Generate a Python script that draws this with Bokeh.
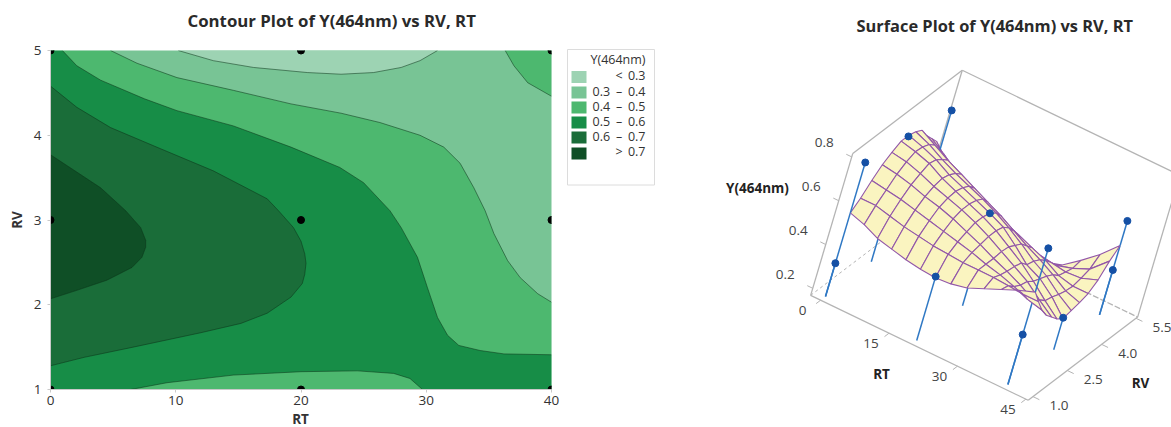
from bokeh.plotting import figure
from bokeh.embed import file_html
from bokeh.resources import INLINE
from bokeh.layouts import row, column
from bokeh.models import Range1d, FixedTicker
from bokeh.core.properties import value

FONT = "Open Sans"
TEXT = "#333333"
COL_LT3, COL_34, COL_45, COL_56, COL_67, COL_GT7 = "#9dd3b3", "#78c495", "#4db86f", "#178d47", "#1a6d39", "#0f4f26"

# contour boundaries (RT, RV)
c03_rt = [10.2, 13, 16.2, 20.5, 23.2, 25.8, 28, 29.5, 30.9]
c03_rv = [5, 4.88, 4.8, 4.74, 4.72, 4.74, 4.8, 4.88, 5]
c04_rt = [4.8, 6.9, 10.1, 14.6, 19.2, 23.2, 26.3, 29.5, 31.4, 32.7, 33.8, 34.7, 35.4, 36.5, 37.5, 38.9, 40]
c04_rv = [5, 4.85, 4.68, 4.53, 4.37, 4.26, 4.15, 4.0, 3.86, 3.67, 3.38, 3.11, 2.84, 2.52, 2.32, 2.13, 2.03]
c04b_rt = [36.3, 37, 38.1, 40]
c04b_rv = [5, 4.82, 4.62, 4.46]
c05_rt = [0.95, 2.1, 4, 7.5, 10.1, 14.6, 19.2, 23.1, 25, 27.1, 28, 29.3, 30.1, 30.9, 31.7, 32.6, 34.3, 36.2, 40]
c05_rv = [5, 4.82, 4.65, 4.43, 4.29, 4.11, 3.86, 3.62, 3.44, 3.11, 2.91, 2.56, 2.2, 1.85, 1.64, 1.52, 1.46, 1.42, 1.41]
c05b_rt = [6.4, 9.3, 14.6, 20, 24.5, 27.4, 28.7, 29.7]
c05b_rv = [1, 1.08, 1.17, 1.21, 1.22, 1.19, 1.13, 1]
c06_rt = [0, 2.1, 4.8, 8.8, 13, 17.3, 18.2, 19.4, 20.0, 20.3, 20.4, 20.3, 20.1, 19.2, 17.3, 15.2, 12, 6.6, 2.7, 0]
c06_rv = [4.58, 4.33, 4.09, 3.84, 3.58, 3.25, 3.11, 2.91, 2.75, 2.6, 2.49, 2.36, 2.25, 2.09, 1.9, 1.78, 1.67, 1.5, 1.38, 1.28]
c07_rt = [0, 4, 6, 7.2, 7.6, 7.6, 7.3, 6.5, 4.5, 2.1, 0]
c07_rv = [3.77, 3.38, 3.11, 2.91, 2.76, 2.68, 2.56, 2.44, 2.29, 2.17, 2.07]

design_rt = [0, 20, 40, 0, 20, 40, 0, 20, 40]
design_rv = [5, 5, 5, 3, 3, 3, 1, 1, 1]

legend_low = ["", "0.3", "0.4", "0.5", "0.6", ""]
legend_sep = ["<", "\u2013", "\u2013", "\u2013", "\u2013", ">"]
legend_high = ["0.3", "0.4", "0.5", "0.6", "0.7", "0.7"]
legend_cols = [COL_LT3, COL_34, COL_45, COL_56, COL_67, COL_GT7]

# surface heights; rows are RV 1 .. 5, columns RT 0 .. 40
surf_rt = [i * 10 / 3 for i in range(13)]
surf_rv = [1 + i / 3 for i in range(13)]
surf_z = [
    [.55, .53, .50, .485, .47, .46, .455, .46, .475, .505, .535, .565, .59],
    [.59, .59, .575, .56, .55, .54, .535, .53, .53, .53, .525, .52, .52],
    [.645, .635, .625, .61, .595, .58, .565, .55, .53, .515, .495, .47, .455],
    [.69, .68, .665, .645, .63, .61, .585, .56, .53, .505, .475, .44, .405],
    [.72, .71, .69, .665, .645, .625, .60, .57, .535, .50, .465, .415, .37],
    [.745, .73, .71, .675, .65, .625, .60, .57, .53, .49, .44, .385, .335],
    [.745, .725, .70, .665, .64, .615, .59, .56, .51, .455, .425, .375, .31],
    [.735, .71, .675, .645, .62, .595, .565, .53, .49, .445, .41, .36, .32],
    [.715, .68, .645, .615, .585, .555, .525, .49, .455, .425, .39, .35, .33],
    [.665, .63, .595, .565, .53, .50, .47, .445, .42, .395, .36, .345, .345],
    [.625, .585, .54, .49, .46, .43, .405, .385, .37, .36, .35, .355, .38],
    [.585, .52, .45, .40, .36, .335, .315, .305, .31, .32, .34, .37, .44],
    [.52, .44, .37, .30, .285, .27, .265, .265, .275, .295, .35, .41, .485],
]
# measured points of the surface plot (grid indexes give the design location)
pt_rt_i = [0, 0, 6, 12, 12, 0, 6, 12, 12, 12, 0]
pt_rv_i = [0, 0, 0, 0, 0, 6, 6, 6, 12, 12, 12]
pt_z = [.32, .78, .46, .396, .79, .74, .59, .314, .373, .597, .70]

rt_ticks = [0, 15, 30, 45]
rv_ticks = [1.0, 2.5, 4.0, 5.5]
z_ticks = [0.2, 0.4, 0.6, 0.8]
RT0, RT1, RV0, RV1, Z0, Z1 = -2.2, 45.5, 0.79, 5.57, 0.168, 0.816


def proj(rt, rv, z):
    return (825 + 4.56 * rt + 22.9 * (rv - 1) + 65 * (z - Z0),
            296 + 2.2 * rt - 17.4 * (rv - 1) - 219 * (z - Z0))


def strip(width, height, x0, y0):
    f = figure(width=width, height=height, x_range=Range1d(x0, x0 + width), y_range=Range1d(y0 + height, y0),
               output_backend="svg", toolbar_location=None, min_border=0, frame_align=False,
               outline_line_color=None, x_axis_type=None, y_axis_type=None)
    f.grid.visible = False
    return f


# ---------- contour plot
head = strip(560, 38, 0, 0)
head.text([187], [20], text=["Contour Plot of Y(464nm) vs RV, RT"], text_font=value(FONT),
          text_font_size="16.8px", text_font_style="bold", text_color="#2a2a2a",
          text_align="left", text_baseline="middle")

a = figure(width=560, height=375, x_range=Range1d(0, 40), y_range=Range1d(1, 5),
           output_backend="svg", toolbar_location=None, frame_align=False,
           min_border_left=50, min_border_right=9, min_border_top=12, min_border_bottom=24)
a.grid.visible = False
a.outline_line_color = None
a.background_fill_color = COL_34


def region(rt, rv, extra_rt, extra_rv, col):
    a.patch(rt + extra_rt, rv + extra_rv, fill_color=col, line_color=None)


region(c04_rt, c04_rv, [40, 0, 0], [1, 1, 5], COL_45)
region(c04b_rt, c04b_rv, [40], [5], COL_45)
region(c03_rt, c03_rv, [], [], COL_LT3)
region(c05_rt, c05_rv, [40, 0, 0], [1, 1, 5], COL_56)
region(c05b_rt, c05b_rv, [], [], COL_45)
region(c06_rt, c06_rv, [], [], COL_67)
region(c07_rt, c07_rv, [], [], COL_GT7)
for rt, rv in [(c03_rt, c03_rv), (c04_rt, c04_rv), (c04b_rt, c04b_rv), (c05_rt, c05_rv),
               (c05b_rt, c05b_rv), (c06_rt, c06_rv), (c07_rt, c07_rv)]:
    a.line(rt, rv, line_color="#0c3319", line_width=0.7, line_alpha=0.75)
a.scatter(design_rt, design_rv, size=7, color="black")

a.xaxis.ticker = FixedTicker(ticks=[0, 10, 20, 30, 40])
a.yaxis.ticker = FixedTicker(ticks=[1, 2, 3, 4, 5])
a.yaxis.axis_label = "RV"
for ax in (a.xaxis, a.yaxis):
    ax.axis_label_text_font = FONT
    ax.axis_label_text_font_size = "13.5px"
    ax.axis_label_text_font_style = "bold"
    ax.axis_label_text_color = TEXT
    ax.major_label_text_font = FONT
    ax.major_label_text_font_size = "13.5px"
    ax.major_label_text_color = TEXT
    ax.axis_line_color = "#c9c9c9"
    ax.major_tick_line_color = "#c9c9c9"
    ax.major_tick_in = 0
    ax.major_tick_out = 3
    ax.minor_tick_line_color = None
a.xaxis.major_label_standoff = 3
a.yaxis.major_label_standoff = 6
a.yaxis.major_label_orientation = "horizontal"
a.yaxis.axis_label_standoff = 5

foot = strip(560, 20, 0, 407)
foot.margin = (-6, 0, 0, 0)
foot.background_fill_alpha = 0
foot.border_fill_alpha = 0
foot.text([300], [418], text=["RT"], text_font=value(FONT), text_font_size="13.5px",
          text_font_style="bold", text_color=TEXT, text_align="center", text_baseline="middle")

# ---------- legend
n = len(legend_cols)
swatch_y = [76.5, 92, 107, 122, 137, 153]
text_y = [75, 90.5, 105.5, 120.5, 135.5, 151]
leg = strip(100, 427, 560, 0)
leg.quad(left=[567], right=[654], top=[49], bottom=[184.5], fill_color="white", line_color="#dcdcdc", line_width=1)
leg.rect(x=[578.5] * n, y=swatch_y, width=15, height=12, fill_color=legend_cols, line_color=None)
kw = dict(text_font=value(FONT), text_font_size="12.5px", text_color=TEXT, text_baseline="middle")
leg.text([645], [59], text=["Y(464nm)"], text_align="right", **kw)
leg.text([592] * n, text_y, text=legend_low, text_align="left", **kw)
leg.text([618.5] * n, text_y, text=legend_sep, text_align="center", **kw)
leg.text([645] * n, text_y, text=legend_high, text_align="right", **kw)

# ---------- surface plot
s = strip(511, 427, 660, 0)
s.text([856], [25], text=["Surface Plot of Y(464nm) vs RV, RT"], text_font=value(FONT),
       text_font_size="16.4px", text_font_style="bold", text_color="#2a2a2a",
       text_align="left", text_baseline="middle")


def seg(p0, p1, **k):
    x0, y0 = proj(*p0)
    x1, y1 = proj(*p1)
    s.line([x0, x1], [y0, y1], **k)


box = dict(line_color="#b4b4b4", line_width=1.3)
seg((RT0, RV0, Z0), (RT1, RV0, Z0), **box)
seg((RT1, RV0, Z0), (RT1, RV1, Z0), **box)
seg((RT0, RV0, Z0), (RT0, RV0, Z1), **box)
seg((RT0, RV0, Z1), (RT0, RV1, Z1), **box)
seg((RT0, RV1, Z1), (RT1, RV1, Z1), **box)
seg((RT0, RV1, Z0), (RT0, RV1, Z1), **box)
seg((RT1, RV1, Z0), (RT1, RV1, Z1), **box)
seg((RT0, RV0, Z0), (RT0, RV1, Z0), line_color="#b4b4b4", line_width=1, line_dash="3 3")
seg((RT0, RV1, Z0), (RT1, RV1, Z0), line_color="#b4b4b4", line_width=1.3, line_dash="6 2")

tick = dict(line_color="#b4b4b4", line_width=1)
for t in rt_ticks:
    seg((t, RV0, Z0), (t, RV0 - 0.2, Z0), **tick)
for t in rv_ticks:
    seg((RT1, t, Z0), (RT1 + 1.4, t, Z0), **tick)
for t in z_ticks:
    seg((RT0, RV0, t), (RT0 - 1.2, RV0, t), **tick)

# drop lines that lie under the surface
BLUE, DOT = "#2f78c4", "#1550a5"
for ri, vi, z in zip(pt_rt_i, pt_rv_i, pt_z):
    rt, rv = surf_rt[ri], surf_rv[vi]
    seg((rt, rv, Z0), (rt, rv, min(z, surf_z[vi][ri])), line_color=BLUE, line_width=1.5)

# surface quads, far ones first
quads = []
for v in range(12):
    for t in range(12):
        corners = [(t, v), (t + 1, v), (t + 1, v + 1), (t, v + 1)]
        pts = [proj(surf_rt[i], surf_rv[j], surf_z[j][i]) for i, j in corners]
        depth = 2.2 * (surf_rt[t] + surf_rt[t + 1]) / 2 - 17.4 * (surf_rv[v] + surf_rv[v + 1]) / 2
        quads.append((depth, [p[0] for p in pts], [p[1] for p in pts]))
quads.sort(key=lambda q: q[0])
s.patches([q[1] for q in quads], [q[2] for q in quads], fill_color="#faf4c0",
          line_color="#9257a8", line_width=1.1)

# drop lines above the surface and the points
for ri, vi, z in zip(pt_rt_i, pt_rv_i, pt_z):
    rt, rv = surf_rt[ri], surf_rv[vi]
    if z > surf_z[vi][ri]:
        seg((rt, rv, surf_z[vi][ri]), (rt, rv, z), line_color=BLUE, line_width=1.5)
pxy = [proj(surf_rt[i], surf_rv[j], z) for i, j, z in zip(pt_rt_i, pt_rv_i, pt_z)]
s.scatter([p[0] for p in pxy], [p[1] for p in pxy], size=7, color=DOT)

tk = dict(text_font=value(FONT), text_font_size="13.5px", text_color="#444444",
          text_align="center", text_baseline="middle")
bd = dict(text_font=value(FONT), text_font_size="13.5px", text_font_style="bold", text_color="#222222",
          text_align="center", text_baseline="middle")
for t in rt_ticks:
    x, y = proj(t, RV0, Z0)
    s.text([x - 18], [y + 10], text=[str(t)], **tk)
for t in rv_ticks:
    x, y = proj(RT1, t, Z0)
    s.text([x + 26], [y + 9], text=["%.1f" % t], **tk)
for t in z_ticks:
    x, y = proj(RT0, RV0, t)
    s.text([x - 27.5], [y - 14], text=[str(t)], **tk)
s.text([881], [373], text=["RT"], **bd)
s.text([1140], [382], text=["RV"], **bd)
s.text([757], [187], text=["Y(464nm)"], **bd)

layout = row(column(head, a, foot, spacing=0), leg, s, spacing=0)
open("out.html", "w").write(file_html(layout, INLINE))
